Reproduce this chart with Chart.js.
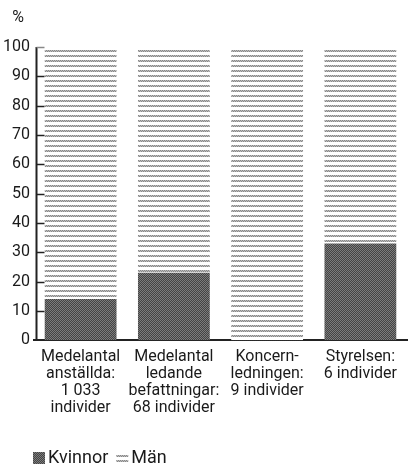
<!DOCTYPE html>
<html>
<head>
<meta charset="utf-8">
<script src="https://cdn.jsdelivr.net/npm/chart.js@4"></script>
<style>
  body { margin: 0; background: #fff; }
</style>
</head>
<body>
<canvas id="barChart" width="408" height="468"></canvas>
<script>
// data
const categories = [
    ["Medelantal", "anställda:", "1 033", "individer"],
    ["Medelantal", "ledande", "befattningar:", "68 individer"],
    ["Koncern-", "ledningen:", "9 individer"],
    ["Styrelsen:", "6 individer"]
];
const women = [14, 23, 0, 33];
const men = [86, 77, 100, 67];
const yTicks = [0, 10, 20, 30, 40, 50, 60, 70, 80, 90, 100];

const FONT = "Roboto, 'DejaVu Sans', sans-serif";
const AXIS_X = 36.5;

// small canvas patterns for the two fills
function makePattern(w, h, paint) {
    const c = document.createElement('canvas');
    c.width = w;
    c.height = h;
    paint(c.getContext('2d'));
    return c.getContext('2d').createPattern(c, 'repeat');
}

const darkFill = makePattern(2, 2, g => {
    g.fillStyle = '#444';
    g.fillRect(0, 0, 2, 2);
    g.fillStyle = '#7c7c7c';
    g.fillRect(0, 0, 1, 1);
    g.fillRect(1, 1, 1, 1);
});

const lightFill = makePattern(2, 5, g => {
    g.fillStyle = '#fff';
    g.fillRect(0, 0, 2, 5);
    g.fillStyle = '#888';
    g.fillRect(0, 0, 1, 1);
    g.fillRect(1, 1, 1, 1);
    g.fillStyle = '#bdbdbd';
    g.fillRect(1, 0, 1, 1);
    g.fillRect(0, 1, 1, 1);
});

// y axis line, short inner ticks, percent sign and the legend
const extras = {
    id: 'extras',
    afterDraw(chart) {
        const ctx = chart.ctx;
        const y = chart.scales.y;
        ctx.save();
        ctx.strokeStyle = '#222';
        ctx.lineWidth = 2;
        ctx.beginPath();
        ctx.moveTo(AXIS_X, y.getPixelForValue(100));
        ctx.lineTo(AXIS_X, y.getPixelForValue(0));
        ctx.stroke();

        ctx.lineWidth = 1.5;
        yTicks.forEach(v => {
            if (v === 0) return;
            const py = Math.round(y.getPixelForValue(v)) + 0.5;
            ctx.strokeStyle = v === 100 ? '#888' : '#222';
            ctx.beginPath();
            ctx.moveTo(AXIS_X, py);
            ctx.lineTo(AXIS_X + 8, py);
            ctx.stroke();
        });

        ctx.fillStyle = '#1a1a1a';
        ctx.font = '16px ' + FONT;
        ctx.textAlign = 'center';
        ctx.textBaseline = 'middle';
        ctx.fillText('%', 18, 18);

        // legend
        let x = 33;
        const top = 452;
        ctx.font = '18px ' + FONT;
        ctx.textAlign = 'left';
        chart.data.datasets.forEach(ds => {
            ctx.fillStyle = ds.backgroundColor;
            ctx.fillRect(x, top, 12, 12);
            ctx.fillStyle = '#1a1a1a';
            ctx.fillText(ds.label, x + 15, top + 6);
            x += 15 + ctx.measureText(ds.label).width + 8;
        });
        ctx.restore();
    }
};

new Chart(document.getElementById('barChart'), {
    type: 'bar',
    data: {
        labels: categories,
        datasets: [
            {
                label: 'Kvinnor',
                data: women,
                backgroundColor: darkFill,
                borderWidth: 0,
                barPercentage: 0.77,
                categoryPercentage: 1
            },
            {
                label: 'Män',
                data: men,
                backgroundColor: lightFill,
                borderWidth: 0,
                barPercentage: 0.77,
                categoryPercentage: 1
            }
        ]
    },
    options: {
        responsive: false,
        animation: false,
        layout: {
            padding: { top: 47, left: 0, right: 1, bottom: 44 }
        },
        scales: {
            x: {
                stacked: true,
                grid: { display: false, drawTicks: false },
                border: { color: '#222', width: 2 },
                ticks: {
                    color: '#1a1a1a',
                    padding: 8,
                    maxRotation: 0,
                    autoSkip: false,
                    font: { family: FONT, size: 16, lineHeight: 1.06 }
                }
            },
            y: {
                stacked: true,
                min: 0,
                max: 100,
                afterFit(scale) { scale.width = 34; },
                afterBuildTicks(scale) {
                    scale.ticks = yTicks.map(v => ({ value: v }));
                },
                grid: { display: false, drawTicks: false },
                border: { display: false },
                ticks: {
                    color: '#1a1a1a',
                    padding: 4,
                    font: { family: FONT, size: 16 }
                }
            }
        },
        plugins: {
            legend: { display: false },
            tooltip: { enabled: false }
        }
    },
    plugins: [extras]
});
</script>
</body>
</html>
